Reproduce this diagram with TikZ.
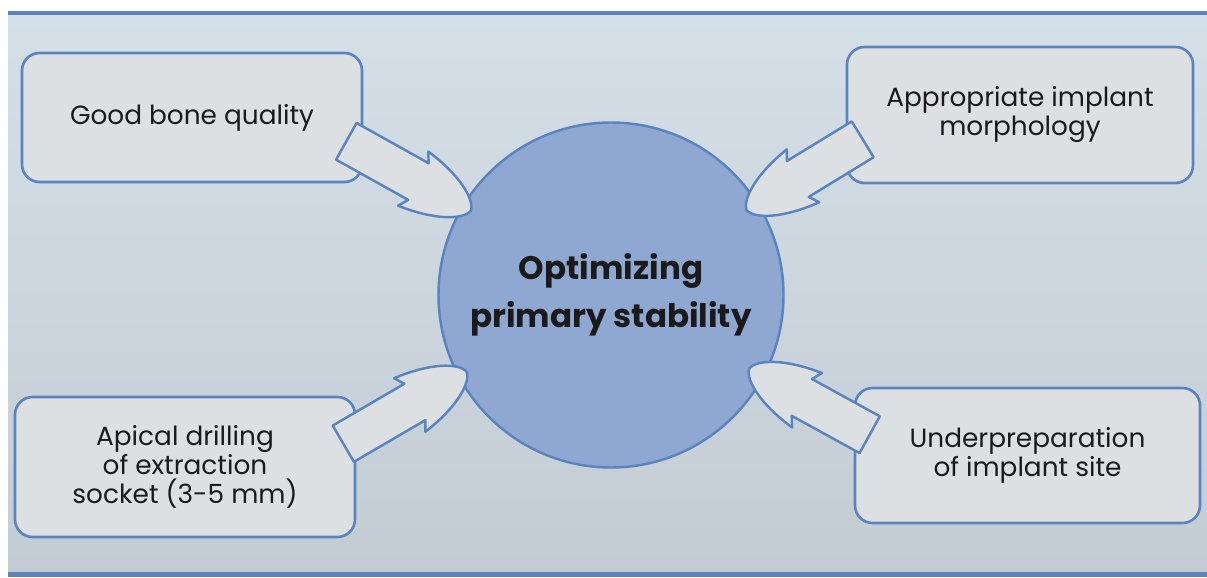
\documentclass[tikz,border=0pt]{standalone}
\usepackage{fontspec}
\setmainfont{Poppins}
\usepackage{xcolor}
\usetikzlibrary{calc}
\definecolor{PanelTop}{HTML}{D5DFE7}
\definecolor{PanelLow}{HTML}{C3CCD3}
\definecolor{Rim}{HTML}{5A84C0}
\definecolor{Card}{HTML}{DDE0E3}
\definecolor{Hub}{HTML}{8FA8D2}
\definecolor{Ink}{HTML}{1A1A1A}
\tikzset{factor/.style={rectangle,rounded corners=10pt,draw=Rim,line width=1.5pt,fill=Card,minimum width=6.8cm,minimum height=2.7cm,align=center,text=Ink,font=\fontsize{15}{16.5}\selectfont},hubnode/.style={circle,draw=Rim,line width=1.4pt,fill=Hub,minimum size=6.9cm,align=center,text=Ink,font=\bfseries\fontsize{18.5}{27}\selectfont},arrowbody/.style={draw=Rim,line width=1.4pt,fill=Card,line join=round},pics/fatarrow/.style={code={\draw[arrowbody] (0cm,-0.42cm) -- ({#1-1.2cm},-0.42cm) -- ({#1-1.32cm},-0.62cm) .. controls ({#1-0.55cm},-0.52cm) and ({#1-0.05cm},-0.24cm) .. (#1,0cm) .. controls ({#1-0.05cm},0.24cm) and ({#1-0.55cm},0.52cm) .. ({#1-1.32cm},0.62cm) -- ({#1-1.2cm},0.42cm) -- (0cm,0.42cm) -- cycle;}}}

\begin{document}
\begin{tikzpicture}
\useasboundingbox (0,0) rectangle (24.14,11.54);
\fill[white] (0,0) rectangle (24.14,11.54);
\shade[top color=PanelTop,bottom color=PanelLow] (0.16,0.1) rectangle (24.14,11.28);
\draw[Rim,line width=2.5pt] (0.16,11.28) -- (24.14,11.28);
\fill[Rim] (0.16,0) rectangle (24.14,0.1);
\node[hubnode] (hub) at (12.22,5.64) {Optimizing\\primary stability};
\node[factor,minimum width=6.8cm,minimum height=2.58cm] (bone) at (3.84,9.19) {Good bone quality};
\node[factor,minimum width=6.92cm,minimum height=2.72cm] (morph) at (20.4,9.24) {Appropriate implant\\morphology};
\node[factor,minimum width=6.8cm,minimum height=2.8cm] (apical) at (3.7,2.2) {Apical drilling\\of extraction\\socket (3-5 mm)};
\node[factor,minimum width=6.9cm,minimum height=2.7cm] (underprep) at (20.55,2.43) {Underpreparation\\of implant site};
% arrow tails sit inside the boxes, tips just inside the circle
\coordinate (bonetail) at ($(bone.south east)+(-0.34,0.84)$);
\coordinate (bonetip) at ($(hub.center)!0.94!(hub.149)$);
\coordinate (morphtail) at ($(morph.south west)+(0.34,0.9)$);
\coordinate (morphtip) at ($(hub.center)!0.92!(hub.32)$);
\coordinate (apicaltail) at ($(apical.north east)+(-0.26,-0.96)$);
\coordinate (apicaltip) at ($(hub.center)!0.94!(hub.208)$);
\coordinate (underpreptail) at ($(underprep.north west)+(0.32,-0.96)$);
\coordinate (underpreptip) at ($(hub.center)!0.9!(hub.-28)$);
\path let \p1=($(bonetip)-(bonetail)$), \n1={atan2(\y1,\x1)}, \n2={veclen(\x1,\y1)} in (bonetail) pic[rotate=\n1]{fatarrow=\n2};
\path let \p1=($(morphtip)-(morphtail)$), \n1={atan2(\y1,\x1)}, \n2={veclen(\x1,\y1)} in (morphtail) pic[rotate=\n1]{fatarrow=\n2};
\path let \p1=($(apicaltip)-(apicaltail)$), \n1={atan2(\y1,\x1)}, \n2={veclen(\x1,\y1)} in (apicaltail) pic[rotate=\n1]{fatarrow=\n2};
\path let \p1=($(underpreptip)-(underpreptail)$), \n1={atan2(\y1,\x1)}, \n2={veclen(\x1,\y1)} in (underpreptail) pic[rotate=\n1]{fatarrow=\n2};
\end{tikzpicture}
\end{document}
